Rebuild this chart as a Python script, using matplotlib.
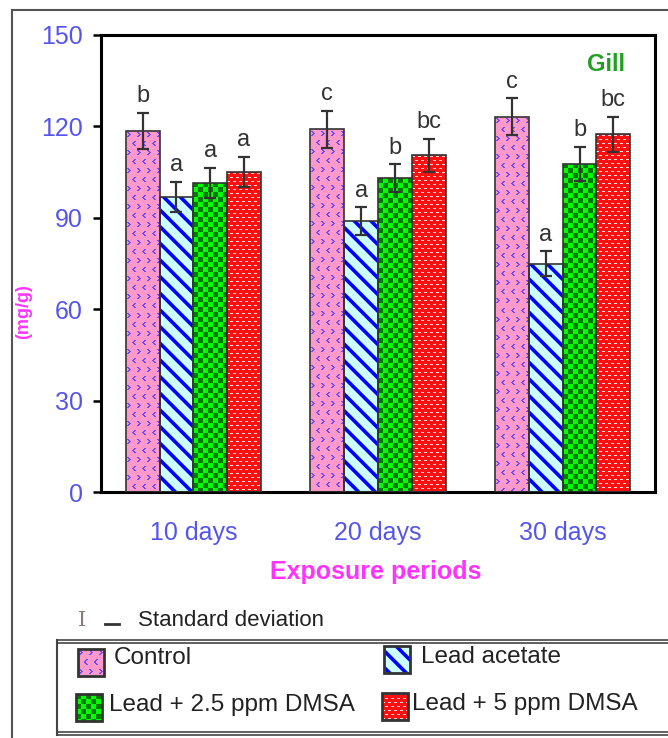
import numpy as np
import matplotlib
matplotlib.use('Agg')
import matplotlib.pyplot as plt
from matplotlib.patches import Rectangle
from matplotlib.lines import Line2D

# data
periods = ['10 days', '20 days', '30 days']
groups = ['Control', 'Lead acetate', 'Lead + 2.5 ppm DMSA', 'Lead + 5 ppm DMSA']
means = {
    'Control': [118.5, 119.0, 123.2],
    'Lead acetate': [96.8, 89.0, 75.0],
    'Lead + 2.5 ppm DMSA': [101.5, 103.0, 107.8],
    'Lead + 5 ppm DMSA': [105.0, 110.5, 117.4],
}
sds = {
    'Control': [6.0, 6.2, 6.0],
    'Lead acetate': [5.0, 4.5, 4.0],
    'Lead + 2.5 ppm DMSA': [5.0, 4.6, 5.6],
    'Lead + 5 ppm DMSA': [5.0, 5.5, 5.8],
}
letters = {
    'Control': ['b', 'c', 'c'],
    'Lead acetate': ['a', 'a', 'a'],
    'Lead + 2.5 ppm DMSA': ['a', 'b', 'b'],
    'Lead + 5 ppm DMSA': ['a', 'bc', 'bc'],
}

W, H = 668, 738
plt.rcParams['font.family'] = ['Liberation Sans', 'DejaVu Sans']

fig = plt.figure(figsize=(W / 100, H / 100), dpi=100)


def fx(px):
    return px / W


def fy(py):
    return 1 - py / H


# chevron tile for the control fill: '>' in the upper half, '<' offset in the lower half
chev = np.array([[1, 1, 0, 0],
                 [0, 1, 1, 0],
                 [0, 0, 1, 1],
                 [0, 1, 1, 0],
                 [1, 1, 0, 0]], dtype=bool)
ctile = np.zeros((18, 10), dtype=bool)
ctile[2:7, 1:5] = chev
ctile[11:16, 6:10] = chev[:, ::-1]


def texture(kind, ny, nx):
    """pixel texture for one bar (rows from top)"""
    yy, xx = np.mgrid[0:ny, 0:nx]
    img = np.zeros((ny, nx, 3))
    if kind == 'control':
        img[:] = matplotlib.colors.to_rgb('#ff99cc')
        m = np.tile(ctile, (ny // 18 + 1, nx // 10 + 1))[:ny, :nx]
        img[m] = matplotlib.colors.to_rgb('#6a4cf0')
    elif kind == 'green':
        img[:] = matplotlib.colors.to_rgb('#00ff00')
        m = ((xx // 5 + yy // 5) % 2) == 0
        img[m] = matplotlib.colors.to_rgb('#007a00')
    elif kind == 'red':
        img[:] = matplotlib.colors.to_rgb('#ff1010')
        row = yy // 4
        xs = (xx + (row % 2) * 3) % 6
        m = ((yy % 4) == 1) & (xs < 3)
        img[m] = matplotlib.colors.to_rgb('#ffd8d8')
    return img


styles = {
    'Control': dict(face='#ff99cc', tex='control'),
    'Lead acetate': dict(face='#ccffff', tex=None),
    'Lead + 2.5 ppm DMSA': dict(face='#00ff00', tex='green'),
    'Lead + 5 ppm DMSA': dict(face='#ff1010', tex='red'),
}

# main axes
ax_l, ax_r, ax_t, ax_b = 101, 655, 35, 492
ax = fig.add_axes([fx(ax_l), fy(ax_b), (ax_r - ax_l) / W, (ax_b - ax_t) / H])
ax.set_xlim(-0.5, 2.5)
ax.set_ylim(0, 150)

x = np.arange(len(periods))
bw = 0.183
px_per_x = (ax_r - ax_l) / 3
px_per_y = (ax_b - ax_t) / 150

for i, g in enumerate(groups):
    pos = x + (i - 1.5) * bw
    st = styles[g]
    if st['tex'] is None:
        bars = ax.bar(pos, means[g], bw, color=st['face'], edgecolor='#0000ff',
                      hatch='\\\\', lw=0, zorder=2)
        for b in bars:
            b.set_hatch_linewidth(2.6)
    else:
        bars = ax.bar(pos, means[g], bw, color=st['face'], lw=0, zorder=2)
        for b in bars:
            nx = int(round(b.get_width() * px_per_x))
            ny = int(round(b.get_height() * px_per_y))
            im = ax.imshow(texture(st['tex'], ny, nx),
                           extent=[b.get_x(), b.get_x() + b.get_width(), 0, b.get_height()],
                           origin='upper', interpolation='nearest', aspect='auto', zorder=2.5)
            im.set_clip_path(b)
    ax.bar(pos, means[g], bw, fill=False, edgecolor='#333333', lw=1.2, zorder=3)
    ax.errorbar(pos, means[g], yerr=sds[g], fmt='none', ecolor='#333333',
                elinewidth=1.6, capsize=4.5, capthick=1.6, zorder=4)
    for xp, m, s, lab in zip(pos, means[g], sds[g], letters[g]):
        ax.text(xp, m + s + 1.8, lab, ha='center', va='bottom', fontsize=17,
                color='#333333', zorder=5)

ax.set_xlim(-0.5, 2.5)
ax.set_ylim(0, 150)
ax.set_yticks(np.arange(0, 151, 30))
ax.tick_params(axis='y', direction='out', length=6, width=1.8, labelsize=18,
               labelcolor='#5555ee', pad=7)
ax.set_xticks(x)
ax.set_xticklabels(periods)
ax.tick_params(axis='x', length=0, labelsize=18, labelcolor='#5555ee', pad=21)
for sp in ax.spines.values():
    sp.set_linewidth(2.2)
    sp.set_color('black')

ax.text(0.912, 0.935, 'Gill', transform=ax.transAxes, ha='center', va='center',
        fontsize=17, fontweight='bold', color='#22a022')

fig.text(fx(24), fy(312), '(mg/g)', rotation=90, ha='center', va='center',
         fontsize=13, fontweight='bold', color='#ff33ff')
fig.text(fx(376), fy(572), 'Exposure periods', ha='center', va='center',
         fontsize=18, fontweight='bold', color='#ff33ff')

# outer frame
fig.add_artist(Line2D([fx(12), fx(12)], [fy(10), fy(738)], color='#555555', lw=1.5))
fig.add_artist(Line2D([fx(12), fx(668)], [fy(10), fy(10)], color='#555555', lw=1.5))

# standard deviation key
fig.text(fx(82), fy(620), 'I', ha='center', va='center', fontsize=15,
         color='#8a7a7a', family='DejaVu Serif')
fig.add_artist(Line2D([fx(105), fx(119)], [fy(624), fy(624)], color='#333333', lw=2))
fig.text(fx(138), fy(621), 'Standard deviation', ha='left', va='center',
         fontsize=16, color='#222222')

# legend box
for yy in (640, 643):
    fig.add_artist(Line2D([fx(57), fx(668)], [fy(yy), fy(yy)], color='#444444', lw=1.2))
for yy in (732, 735):
    fig.add_artist(Line2D([fx(57), fx(668)], [fy(yy), fy(yy)], color='#444444', lw=1.2))
fig.add_artist(Line2D([fx(57), fx(57)], [fy(640), fy(735)], color='#444444', lw=1.5))

legend_items = [
    ('Control', 78, 649, 114, 658),
    ('Lead acetate', 384, 646, 421, 657),
    ('Lead + 2.5 ppm DMSA', 76, 694, 109, 705),
    ('Lead + 5 ppm DMSA', 382, 693, 412, 704),
]
sw_w, sw_h = 26, 27
for g, sx, sy, tx, ty in legend_items:
    sax = fig.add_axes([fx(sx), fy(sy + sw_h), sw_w / W, sw_h / H])
    sax.set_xlim(0, 1)
    sax.set_ylim(0, 1)
    sax.axis('off')
    st = styles[g]
    if st['tex'] is None:
        r = Rectangle((0, 0), 1, 1, facecolor=st['face'], edgecolor='#0000ff',
                      hatch='\\\\', lw=0)
        r.set_hatch_linewidth(2.6)
        sax.add_patch(r)
    else:
        sax.imshow(texture(st['tex'], sw_h, sw_w), extent=[0, 1, 0, 1],
                   interpolation='nearest', aspect='auto')
    sax.add_patch(Rectangle((0, 0), 1, 1, fill=False, edgecolor='#333333', lw=2,
                            clip_on=False))
    fig.text(fx(tx), fy(ty), g, ha='left', va='center', fontsize=17.5, color='#222222')

fig.savefig('out.png', dpi=100)
plt.close(fig)
